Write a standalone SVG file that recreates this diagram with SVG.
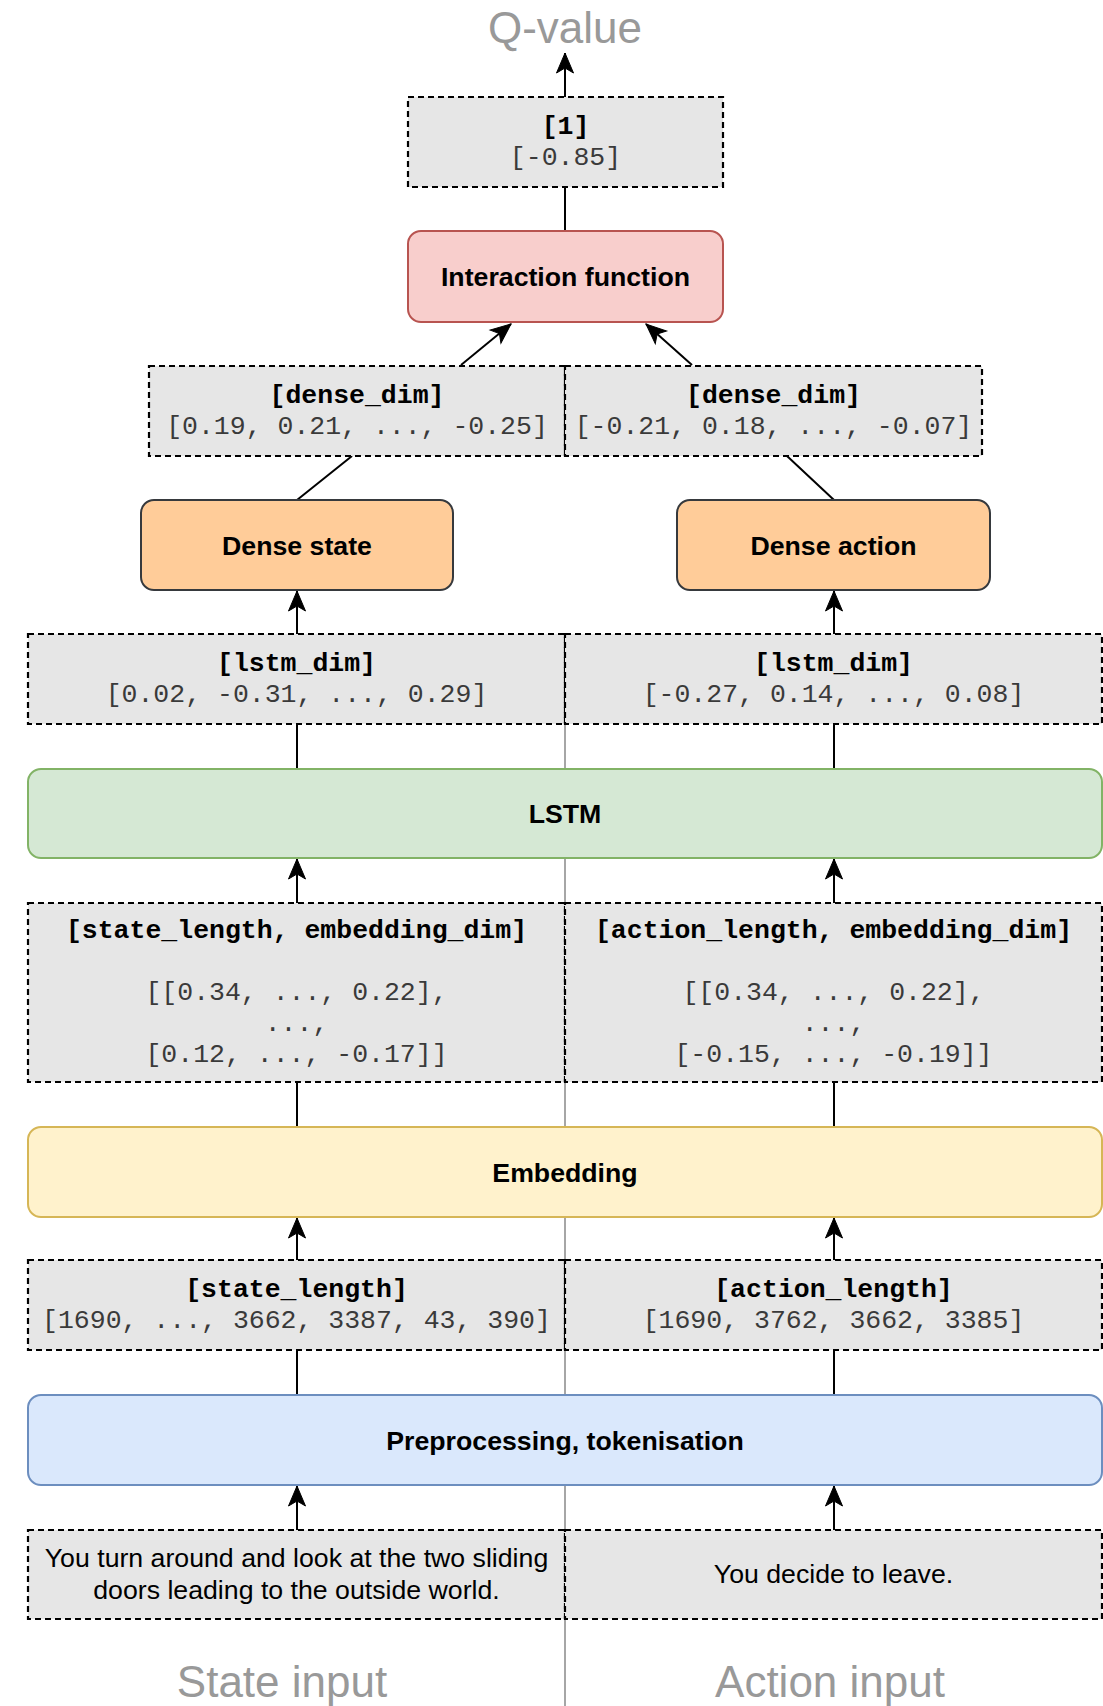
<svg xmlns="http://www.w3.org/2000/svg" width="1103" height="1706" viewBox="0 0 1103 1706">
<style>
.bg{fill:#ffffff}
.shape{fill:#e6e6e6;stroke:#000000;stroke-width:2.2;stroke-dasharray:6 4}
.hdr{font-family:"Liberation Mono","Courier New",monospace;font-weight:bold;font-size:26.5px;fill:#000000;text-anchor:middle}
.val{font-family:"Liberation Mono","Courier New",monospace;font-size:26.5px;fill:#3a3a3a;text-anchor:middle}
.lbl{font-family:"Liberation Sans",Arial,sans-serif;font-weight:bold;font-size:26.7px;fill:#000000;text-anchor:middle}
.txt{font-family:"Liberation Sans",Arial,sans-serif;font-size:26.7px;fill:#000000;text-anchor:middle}
.big{font-family:"Liberation Sans",Arial,sans-serif;font-size:44px;fill:#999999;text-anchor:middle}
.edge{fill:none;stroke:#000000;stroke-width:2}
.arr{fill:none;stroke:#000000;stroke-width:2;marker-end:url(#ah)}
</style>
<defs>
<marker id="ah" markerUnits="userSpaceOnUse" markerWidth="24" markerHeight="20" viewBox="-22 -10 24 20" refX="0" refY="0" orient="auto">
<path d="M0,0 L-20,-8.5 L-15,0 L-20,8.5 Z" fill="#000000" stroke="#000000" stroke-width="1"/>
</marker>
</defs>
<rect class="bg" x="0" y="0" width="1103" height="1706"/>
<g id="divider">
<line x1="565" y1="634" x2="565" y2="1706" stroke="#a6a6a6" stroke-width="2"/>
</g>
<g id="connectors">
<line class="arr" x1="565" y1="97" x2="565" y2="53"/>
<line class="edge" x1="565" y1="187" x2="565" y2="231"/>
<line class="arr" x1="461" y1="365" x2="511" y2="324"/>
<line class="arr" x1="692" y1="365" x2="646" y2="324"/>
<line class="edge" x1="352" y1="456" x2="297" y2="500"/>
<line class="edge" x1="787" y1="456" x2="834" y2="500"/>
<line class="arr" x1="297" y1="634" x2="297" y2="591"/>
<line class="arr" x1="834" y1="634" x2="834" y2="591"/>
<line class="edge" x1="297" y1="724" x2="297" y2="769"/>
<line class="edge" x1="834" y1="724" x2="834" y2="769"/>
<line class="arr" x1="297" y1="903" x2="297" y2="859"/>
<line class="arr" x1="834" y1="903" x2="834" y2="859"/>
<line class="edge" x1="297" y1="1082" x2="297" y2="1127"/>
<line class="edge" x1="834" y1="1082" x2="834" y2="1127"/>
<line class="arr" x1="297" y1="1260" x2="297" y2="1218"/>
<line class="arr" x1="834" y1="1260" x2="834" y2="1218"/>
<line class="edge" x1="297" y1="1350" x2="297" y2="1395"/>
<line class="edge" x1="834" y1="1350" x2="834" y2="1395"/>
<line class="arr" x1="297" y1="1530" x2="297" y2="1486"/>
<line class="arr" x1="834" y1="1530" x2="834" y2="1486"/>
</g>
<g id="qvalue-label"><text class="big" x="565" y="43">Q-value</text></g>
<g id="out-value">
<rect class="shape" x="408" y="97" width="315" height="90"/>
<text class="hdr" x="565.5" y="134">[1]</text>
<text class="val" x="565.5" y="165">[-0.85]</text>
</g>
<g id="interaction">
<rect x="408" y="231" width="315" height="91" rx="13" ry="13" fill="#f8cecc" stroke="#b85450" stroke-width="2"/>
<text class="lbl" x="565.5" y="285.5">Interaction function</text>
</g>
<g id="dense-state-out">
<rect class="shape" x="149" y="366" width="416" height="90"/>
<text class="hdr" x="357" y="403">[dense_dim]</text>
<text class="val" x="357" y="434">[0.19, 0.21, ..., -0.25]</text>
</g>
<g id="dense-action-out">
<rect class="shape" x="565" y="366" width="417" height="90"/>
<text class="hdr" x="773.5" y="403">[dense_dim]</text>
<text class="val" x="773.5" y="434">[-0.21, 0.18, ..., -0.07]</text>
</g>
<g id="dense-state">
<rect x="141" y="500" width="312" height="90" rx="13" ry="13" fill="#ffcc99" stroke="#36393d" stroke-width="2"/>
<text class="lbl" x="297" y="554.5">Dense state</text>
</g>
<g id="dense-action">
<rect x="677" y="500" width="313" height="90" rx="13" ry="13" fill="#ffcc99" stroke="#36393d" stroke-width="2"/>
<text class="lbl" x="833.5" y="554.5">Dense action</text>
</g>
<g id="lstm-state-out">
<rect class="shape" x="28" y="634" width="537" height="90"/>
<text class="hdr" x="296.5" y="671">[lstm_dim]</text>
<text class="val" x="296.5" y="702">[0.02, -0.31, ..., 0.29]</text>
</g>
<g id="lstm-action-out">
<rect class="shape" x="565" y="634" width="537" height="90"/>
<text class="hdr" x="833.5" y="671">[lstm_dim]</text>
<text class="val" x="833.5" y="702">[-0.27, 0.14, ..., 0.08]</text>
</g>
<g id="lstm">
<rect x="28" y="769" width="1074" height="89" rx="13" ry="13" fill="#d5e8d4" stroke="#82b366" stroke-width="2"/>
<text class="lbl" x="565" y="822.5">LSTM</text>
</g>
<g id="emb-state-out">
<rect class="shape" x="28" y="903" width="537" height="179"/>
<text class="hdr" x="296.5" y="938">[state_length, embedding_dim]</text>
<text class="val" x="296.5" y="1000">[[0.34, ..., 0.22],</text>
<text class="val" x="296.5" y="1031">...,</text>
<text class="val" x="296.5" y="1062">[0.12, ..., -0.17]]</text>
</g>
<g id="emb-action-out">
<rect class="shape" x="565" y="903" width="537" height="179"/>
<text class="hdr" x="833.5" y="938">[action_length, embedding_dim]</text>
<text class="val" x="833.5" y="1000">[[0.34, ..., 0.22],</text>
<text class="val" x="833.5" y="1031">...,</text>
<text class="val" x="833.5" y="1062">[-0.15, ..., -0.19]]</text>
</g>
<g id="embedding">
<rect x="28" y="1127" width="1074" height="90" rx="13" ry="13" fill="#fff2cc" stroke="#d6b656" stroke-width="2"/>
<text class="lbl" x="565" y="1181.5">Embedding</text>
</g>
<g id="tok-state-out">
<rect class="shape" x="28" y="1260" width="537" height="90"/>
<text class="hdr" x="296.5" y="1297">[state_length]</text>
<text class="val" x="296.5" y="1328">[1690, ..., 3662, 3387, 43, 390]</text>
</g>
<g id="tok-action-out">
<rect class="shape" x="565" y="1260" width="537" height="90"/>
<text class="hdr" x="833.5" y="1297">[action_length]</text>
<text class="val" x="833.5" y="1328">[1690, 3762, 3662, 3385]</text>
</g>
<g id="preprocessing">
<rect x="28" y="1395" width="1074" height="90" rx="13" ry="13" fill="#dae8fc" stroke="#6c8ebf" stroke-width="2"/>
<text class="lbl" x="565" y="1449.5">Preprocessing, tokenisation</text>
</g>
<g id="state-text">
<rect class="shape" x="28" y="1530" width="537" height="89"/>
<text class="txt" x="296.5" y="1567">You turn around and look at the two sliding</text>
<text class="txt" x="296.5" y="1599">doors leading to the outside world.</text>
</g>
<g id="action-text">
<rect class="shape" x="565" y="1530" width="537" height="89"/>
<text class="txt" x="833.5" y="1583">You decide to leave.</text>
</g>
<g id="state-input-label"><text class="big" x="282" y="1697">State input</text></g>
<g id="action-input-label"><text class="big" x="830" y="1697">Action input</text></g>
</svg>
